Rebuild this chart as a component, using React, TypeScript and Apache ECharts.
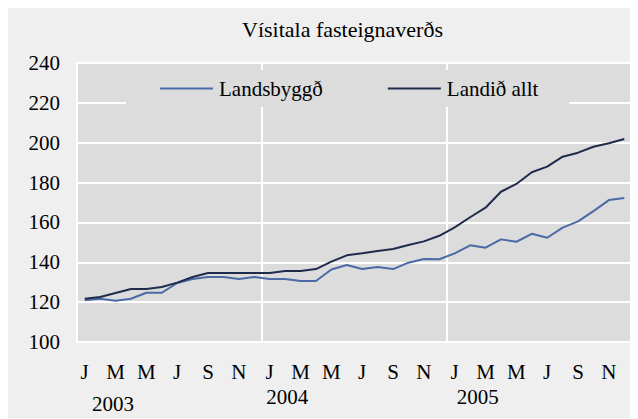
import React, { useEffect, useRef } from "react";
import * as echarts from "echarts";

const months: string[] = [
  "2003-01","2003-02","2003-03","2003-04","2003-05","2003-06","2003-07","2003-08","2003-09","2003-10","2003-11","2003-12",
  "2004-01","2004-02","2004-03","2004-04","2004-05","2004-06","2004-07","2004-08","2004-09","2004-10","2004-11","2004-12",
  "2005-01","2005-02","2005-03","2005-04","2005-05","2005-06","2005-07","2005-08","2005-09","2005-10","2005-11","2005-12",
];
const monthLetters: string[] = ["J","F","M","A","M","J","J","A","S","O","N","D"];

const landsbyggd: number[] = [
  120.9, 121.7, 120.7, 121.7, 124.7, 124.7, 129.6, 131.6, 132.6, 132.6, 131.6, 132.6,
  131.6, 131.6, 130.6, 130.6, 136.4, 138.6, 136.6, 137.6, 136.6, 139.8, 141.6, 141.5,
  144.5, 148.5, 147.3, 151.5, 150.3, 154.3, 152.3, 157.4, 160.5, 165.7, 171.2, 172.2,
];
const landidAllt: number[] = [
  121.7, 122.6, 124.6, 126.6, 126.6, 127.6, 129.8, 132.6, 134.6, 134.6, 134.6, 134.6,
  134.6, 135.6, 135.6, 136.6, 140.3, 143.5, 144.5, 145.7, 146.7, 148.7, 150.5, 153.3,
  157.5, 162.6, 167.4, 175.4, 179.3, 185.2, 188.0, 193.0, 195.0, 198.0, 199.7, 201.9,
];
const yearLabelIndex: Record<number, string> = { 2: "2003", 13: "2004", 25: "2005" };

const FONT = "Liberation Serif";

export default function App() {
  const ref = useRef<HTMLDivElement>(null);
  useEffect(() => {
    if (!ref.current) return;
    const chart = echarts.init(ref.current, undefined, { renderer: "svg" });
    chart.setOption({
      animation: false,
      backgroundColor: "#efefef",
      textStyle: { fontFamily: FONT },
      title: {
        text: "Vísitala fasteignaverðs",
        left: 229,
        top: 5,
        textStyle: { fontFamily: FONT, fontSize: 22, fontWeight: "normal", color: "#000" },
      },
      legend: {
        left: 118,
        top: 62,
        padding: [8, 31, 8, 34],
        itemGap: 65,
        itemWidth: 53,
        itemHeight: 2,
        icon: "rect",
        backgroundColor: "#dcdcdc",
        textStyle: { fontFamily: FONT, fontSize: 21, color: "#000", padding: [0, 0, 0, 1] },
        data: ["Landsbyggð", "Landið allt"],
      },
      grid: {
        left: 69,
        top: 55,
        width: 555,
        height: 279,
        show: true,
        backgroundColor: "#dcdcdc",
        borderColor: "#ffffff",
        borderWidth: 2,
      },
      xAxis: [
        {
          type: "category",
          data: months,
          boundaryGap: true,
          axisLine: { show: false },
          axisTick: { show: false },
          splitLine: {
            show: true,
            interval: (i: number) => i === 12 || i === 24,
            lineStyle: { color: "#ffffff", width: 2 },
          },
          axisLabel: {
            interval: 1,
            margin: 19,
            fontFamily: FONT,
            fontSize: 21,
            color: "#000",
            formatter: (v: string) => monthLetters[parseInt(v.slice(5), 10) - 1],
          },
        },
        {
          type: "category",
          data: months,
          position: "bottom",
          boundaryGap: true,
          axisLine: { show: false },
          axisTick: { show: false },
          splitLine: { show: false },
          axisLabel: {
            interval: (i: number) => yearLabelIndex[i] !== undefined,
            margin: 44,
            fontFamily: FONT,
            fontSize: 21,
            color: "#000",
            formatter: (_v: string, i: number) => {
              const y = yearLabelIndex[i];
              if (!y) return "";
              return `{y${y}|${y}}`;
            },
            rich: {
              y2003: { fontFamily: FONT, fontSize: 21, color: "#000", padding: [7, 5, 0, 0] },
              y2004: { fontFamily: FONT, fontSize: 21, color: "#000", padding: [0, 0, 0, 4] },
              y2005: { fontFamily: FONT, fontSize: 21, color: "#000", padding: [0, 0, 0, 15] },
            },
          },
        },
      ],
      yAxis: {
        type: "value",
        min: 100,
        max: 240,
        interval: 20,
        axisLine: { show: false },
        axisTick: { show: false },
        splitLine: { show: true, lineStyle: { color: "#ffffff", width: 2 } },
        axisLabel: { margin: 17, fontFamily: FONT, fontSize: 21, color: "#000" },
      },
      series: [
        {
          name: "Landsbyggð",
          type: "line",
          data: landsbyggd,
          symbol: "none",
          lineStyle: { color: "#4a6aa6", width: 2 },
          itemStyle: { color: "#4a6aa6" },
          z: 3,
        },
        {
          name: "Landið allt",
          type: "line",
          data: landidAllt,
          symbol: "none",
          lineStyle: { color: "#1e2b4b", width: 2 },
          itemStyle: { color: "#1e2b4b" },
          z: 3,
        },
      ],
    });
    return () => chart.dispose();
  }, []);
  return <div ref={ref} style={{ width: 630, height: 410 }} />;
}
